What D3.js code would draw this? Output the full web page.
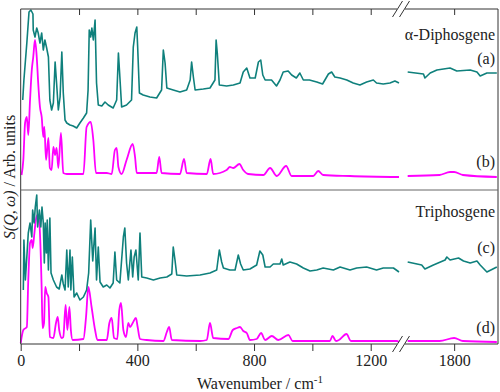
<!DOCTYPE html>
<html>
<head>
<meta charset="utf-8">
<script src="https://cdn.jsdelivr.net/npm/d3@7"></script>
<style>
  body { margin: 0; background: #fff; }
  svg { display: block; }
  text { font-family: "Liberation Serif", "Times New Roman", serif; fill: #222; }
</style>
</head>
<body>
<div id="chart"></div>
<script>
// [wavenumber, intensity]
const diphosgeneExp = [[7,90],[11,110],[21,147],[28.5,178],[35,180],[42,176],[43,160],[49,153],[55,162],[60,157],[66,147],[72,157],[77.5,140],[83,150],[89,142],[95,133],[100,90],[106,80],[112,87],[118,128],[123,107],[129,80],[135,93],[141,138],[146,97],[152,70],[158,67],[169,65],[180,64],[192,62],[203,67],[215,72],[226,77],[231,100],[235,160],[240,153],[244,162],[249,150],[255,170],[260,107],[266,85],[278,84],[289,88],[300,85],[317,82],[329,90],[335,137],[340,113],[346,83],[363,85],[380,90],[386,143],[392,157],[398,163],[401,143],[407,97],[420,95],[443,93],[466,92],[483,100],[489,140],[495,127],[501,102],[523,100],[546,98],[569,100],[581,110],[586,128],[592,113],[598,100],[626,101],[649,102],[666,110],[670,150],[674,137],[681,105],[706,104],[729,105],[752,107],[763,118],[775,122],[786,112],[804,112],[815,128],[823,130],[830,115],[838,110],[860,110],[877,104],[889,110],[900,118],[917,119],[929,115],[945,112],[957,117],[969,110],[990,110],[1015,108],[1035,106],[1055,116],[1066,118],[1077,113],[1095,112],[1118,110],[1140,107],[1163,105],[1186,108],[1209,110],[1220,107],[1243,106],[1266,107],[1283,109],[1297,107],
  [1641,118],[1695,116],[1700,112],[1718,117],[1741,120],[1786,122],[1809,119],[1855,120],[1878,118],[1889,114],[1912,117],[1946,117]];

const diphosgeneCalc = [[3,15],[9,30],[15,67],[21,73],[26,55],[32,90],[38,120],[43,133],[49,150],[55,133],[60,107],[66,83],[72,73],[77.5,53],[81,63],[87,30],[95,52],[100,22],[106,20],[112,43],[118,35],[123,42],[129,22],[138,57],[146,17],[158,16],[215,16],[226,63],[240,68],[249,50],[258,17],[295,17],[312,16],[323,40],[329,42],[335,23],[346,16],[363,30],[384,46],[392,33],[398,17],[466,17],[475,33],[483,17],[546,16],[560,31],[569,17],[638,16],[651,31],[660,16],[706,20],[717,23],[729,22],[750,26],[763,20],[780,16],[832,15],[855,22],[878,14],[910,24],[929,14],[1003,14],[1020,19],[1037,15],[1129,14],[1297,13],
  [1641,14],[1750,15],[1786,18],[1800,18],[1830,15],[1946,13]];

const triphosgeneExp = [[9,54],[11,104],[16,64],[21,87],[26,111],[32,121],[38,107],[41,134],[46,121],[50,137],[55,149],[58,117],[64,134],[69,117],[73,137],[77.5,121],[81,81],[84,121],[88,91],[91,124],[95,74],[100,126],[104,71],[112,64],[123,57],[132,55],[141,69],[146,60],[152,54],[158,94],[163,57],[169,94],[172,54],[177,87],[183,47],[192,51],[203,44],[215,47],[226,54],[233,71],[240,124],[247,83],[255,116],[260,64],[266,97],[272,62],[283,57],[295,59],[306,56],[317,61],[323,92],[329,64],[340,61],[352,107],[357,116],[363,81],[369,64],[378,94],[384,67],[389,87],[395,94],[403,64],[409,111],[415,67],[432,66],[455,64],[478,66],[501,67],[518,70],[523,97],[529,84],[535,69],[569,68],[615,69],[649,71],[672,74],[681,94],[689,82],[695,76],[717,74],[735,74],[746,89],[754,80],[763,74],[786,75],[809,79],[820,93],[830,89],[838,77],[855,77],[866,80],[889,80],[895,85],[900,79],[923,82],[946,80],[969,76],[992,73],[1015,74],[1037,76],[1072,74],[1095,77],[1129,74],[1152,76],[1186,77],[1220,74],[1243,76],[1278,76],[1297,72],
  [1641,82],[1689,79],[1700,75],[1729,79],[1769,84],[1775,87],[1786,84],[1815,86],[1832,83],[1855,81],[1878,83],[1889,79],[1912,72],[1946,77]];

const triphosgeneCalc = [[0,1],[9,14],[21,17],[26,64],[32,101],[38,104],[41,96],[47,111],[52,124],[58,129],[64,121],[69,87],[72,54],[75,16],[80,21],[84,57],[89,51],[95,47],[100,7],[112,6],[121,21],[127,27],[132,14],[141,6],[146,7],[154,39],[160,14],[167,37],[172,14],[178,4],[215,5],[224,27],[232,57],[243,37],[255,14],[263,4],[295,4],[304,21],[312,26],[320,6],[331,5],[338,34],[344,41],[352,14],[361,7],[369,21],[375,17],[384,21],[395,26],[401,17],[409,5],[432,4],[489,3],[501,12],[509,17],[518,4],[615,3],[638,4],[649,21],[660,6],[712,5],[727,14],[741,16],[752,17],[763,13],[775,11],[786,4],[809,5],[824,11],[838,4],[861,8],[883,4],[918,9],[932,3],[1060,3],[1069,8],[1081,3],[1091,4],[1117,10],[1132,3],[1289,3],[1297,2],
  [1641,3],[1750,3],[1800,6],[1830,3],[1946,2]];

const minorTicks = [0, 200, 400, 600, 800, 1000, 1200];
const tickLabelsLeft = [0, 400, 800, 1200];
const ticksRight = [1800];

const width = 500, height = 392;
const teal = '#0f807c', magenta = '#ff00ff';

const svg = d3.select('#chart').append('svg')
    .attr('width', width)
    .attr('height', height);

const xLeft = 20.7, xRight = 498, yTopEdge = 9, yMid = 190, yBottomEdge = 344;
const breakAt = 1400;

const xL = d3.scaleLinear().domain([0, 1297]).range([xLeft, 399]);
const xR = d3.scaleLinear().domain([1625, 1950]).range([403, xRight]);

const yTop = d3.scaleLinear().domain([0, 181]).range([yMid, yTopEdge]);
const yBot = d3.scaleLinear().domain([0, 154]).range([yBottomEdge, yMid]);

function drawSeries(data, y, color, curve, lw) {
    const segs = [data.filter(d => d[0] < breakAt), data.filter(d => d[0] > breakAt)];
    const scales = [xL, xR];
    segs.forEach((seg, i) => {
        const line = d3.line()
            .x(d => scales[i](d[0]))
            .y(d => y(d[1]))
            .curve(curve);
        svg.append('path')
            .datum(seg)
            .attr('d', line)
            .attr('fill', 'none')
            .attr('stroke', color)
            .attr('stroke-width', lw)
            .attr('stroke-linejoin', 'round');
    });
}

drawSeries(diphosgeneCalc, yTop, magenta, d3.curveMonotoneX, 1.8);
drawSeries(diphosgeneExp, yTop, teal, d3.curveLinear, 1.6);
drawSeries(triphosgeneCalc, yBot, magenta, d3.curveMonotoneX, 1.8);
drawSeries(triphosgeneExp, yBot, teal, d3.curveLinear, 1.6);

// frame
const frame = svg.append('g').attr('stroke', '#333').attr('stroke-width', 1).attr('fill', 'none');
frame.append('line').attr('x1', xLeft).attr('x2', xLeft).attr('y1', yTopEdge).attr('y2', yBottomEdge);
frame.append('line').attr('x1', xRight).attr('x2', xRight).attr('y1', yTopEdge).attr('y2', yBottomEdge);
frame.append('line').attr('x1', xLeft).attr('x2', xRight).attr('y1', yMid).attr('y2', yMid).attr('stroke', '#666');
[yTopEdge, yBottomEdge].forEach(yy => {
    frame.append('line').attr('x1', xLeft).attr('x2', 397).attr('y1', yy).attr('y2', yy);
    frame.append('line').attr('x1', 405).attr('x2', xRight).attr('y1', yy).attr('y2', yy);
    [397.5, 404.5].forEach(cx => {
        frame.append('line')
            .attr('x1', cx - 5).attr('y1', yy + 8)
            .attr('x2', cx + 5).attr('y2', yy - 8);
    });
});

// bottom axis
const axB1 = d3.axisBottom(xL).tickValues(minorTicks).tickSize(7).tickPadding(4)
    .tickFormat(d => tickLabelsLeft.includes(d) ? d3.format('d')(d) : '');
const axB2 = d3.axisBottom(xR).tickValues(ticksRight).tickSize(7).tickPadding(4)
    .tickFormat(d3.format('d'));
[axB1, axB2].forEach(ax => {
    const g = svg.append('g').attr('transform', `translate(0,${yBottomEdge})`).call(ax);
    g.select('.domain').remove();
    g.selectAll('line').attr('stroke', '#333');
    g.selectAll('text').attr('font-size', 16).attr('fill', '#222');
});

// top axis (inward ticks)
const axT1 = d3.axisBottom(xL).tickValues(minorTicks.slice(1)).tickSize(6).tickFormat('');
const axT2 = d3.axisBottom(xR).tickValues(ticksRight).tickSize(6).tickFormat('');
[axT1, axT2].forEach(ax => {
    const g = svg.append('g').attr('transform', `translate(0,${yTopEdge})`).call(ax);
    g.select('.domain').remove();
    g.selectAll('line').attr('stroke', '#333');
});

// labels
const xlab = svg.append('text').attr('x', 260).attr('y', 389).attr('text-anchor', 'middle').attr('font-size', 16);
xlab.append('tspan').text('Wavenumber / cm');
xlab.append('tspan').attr('dy', -6).attr('font-size', 11).text('-1');

const ylab = svg.append('text')
    .attr('transform', 'translate(15,177) rotate(-90)')
    .attr('text-anchor', 'middle').attr('font-size', 16);
ylab.append('tspan').attr('font-style', 'italic').text('S(Q,\u2009\u03c9)');
ylab.append('tspan').text(' / Arb. units');

const labels = [
    ['\u03b1-Diphosgene', 40], ['(a)', 64], ['(b)', 167],
    ['Triphosgene', 217], ['(c)', 253], ['(d)', 333]
];
labels.forEach(([t, yy]) => {
    svg.append('text').attr('x', 495).attr('y', yy).attr('text-anchor', 'end').attr('font-size', 16).text(t);
});
</script>
</body>
</html>
